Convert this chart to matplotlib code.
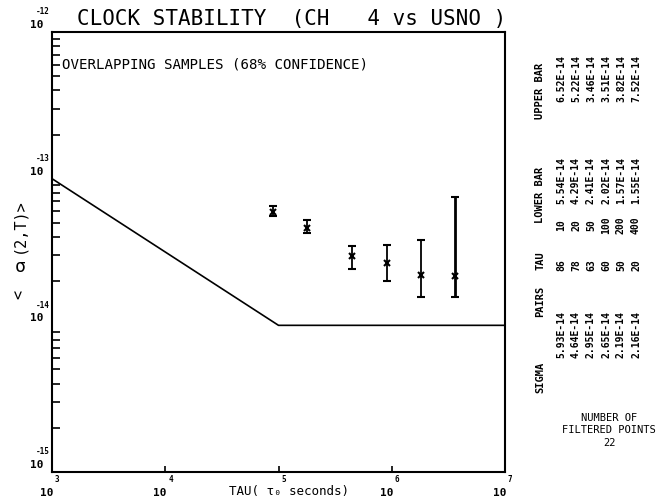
import numpy as np
import matplotlib.pyplot as plt
from matplotlib.ticker import LogLocator, NullFormatter

# table values (as printed on the chart)
sigma = [5.93e-14, 4.64e-14, 2.95e-14, 2.65e-14, 2.19e-14, 2.16e-14]
pairs = [86, 78, 63, 60, 50, 20]
tau = [10, 20, 50, 100, 200, 400]
lower_bar = [5.54e-14, 4.29e-14, 2.41e-14, 2.02e-14, 1.57e-14, 1.55e-14]
upper_bar = [6.52e-14, 5.22e-14, 3.46e-14, 3.51e-14, 3.82e-14, 7.52e-14]
# where the points sit on the seconds axis
tau_sec = [9.0e4, 1.8e5, 4.5e5, 9.0e5, 1.8e6, 3.6e6]
# model line
model_x = [1e3, 1e5, 1e7]
model_y = [1e-13, 1e-14, 1e-14]
n_filtered = 22

mono = 'DejaVu Sans Mono'
plt.rcParams['font.family'] = mono

fig = plt.figure(figsize=(6.62, 5.0), dpi=100)
ax = fig.add_axes([52/662, 1-472/500, (505-52)/662, (472-32)/500])
ax.set_xscale('log')
ax.set_yscale('log')
ax.set_xlim(1e3, 1e7)
ax.set_ylim(1e-15, 1e-12)

ax.plot(model_x, model_y, color='black', lw=1.2)

for i in range(len(sigma)):
    lo = sigma[i] - lower_bar[i]
    hi = upper_bar[i] - sigma[i]
    lw = 2.0 if i == len(sigma) - 1 else 1.3
    ax.errorbar([tau_sec[i]], [sigma[i]], yerr=[[lo], [hi]], fmt='x', color='black',
                ms=4.5, mew=1.5, elinewidth=lw, capsize=3, capthick=1.5)

for s in ax.spines.values():
    s.set_linewidth(1.5)

ax.yaxis.set_major_locator(LogLocator(base=10, numticks=10))
ax.yaxis.set_minor_locator(LogLocator(base=10, subs=np.arange(2, 10), numticks=10))
ax.yaxis.set_minor_formatter(NullFormatter())
ax.tick_params(axis='y', which='minor', direction='in', length=6, width=1.2, right=False)
ax.tick_params(axis='y', which='major', direction='in', length=0, right=False)
ax.xaxis.set_major_locator(LogLocator(base=10, numticks=10))
ax.xaxis.set_minor_formatter(NullFormatter())
ax.tick_params(axis='x', which='major', direction='in', length=4, width=1.2, top=False)
ax.tick_params(axis='x', which='minor', length=0)
ax.set_xticklabels([])
ax.set_yticklabels([])

# tick labels in the plotter style: exponent above the 10
for e in [3, 4, 5, 6, 7]:
    if e != 5:  # the axis title sits on that slot
        ax.text(10.0**e * 0.903, -0.048, '10', transform=ax.get_xaxis_transform(), ha='center',
                va='center', fontsize=8, fontweight='bold')
    ax.text(10.0**e * 1.11, -0.018, str(e), transform=ax.get_xaxis_transform(), ha='center',
            va='center', fontsize=5.5, fontweight='bold')
for e in [-12, -13, -14, -15]:
    ax.text(-0.033, 10.0**e * 1.116, '10', transform=ax.get_yaxis_transform(), ha='center',
            va='center', fontsize=8, fontweight='bold')
    ax.text(-0.004, 10.0**e * 1.37, str(e), transform=ax.get_yaxis_transform(), ha='right',
            va='center', fontsize=5.5, fontweight='bold')

fig.text(77/662, 1-19/500, 'CLOCK STABILITY  (CH   4 vs USNO )', ha='left', va='center',
         fontsize=15)
ax.text(0.022, 0.925, 'OVERLAPPING SAMPLES (68% CONFIDENCE)', transform=ax.transAxes,
        ha='left', va='center', fontsize=10.2)

# y label
fig.text(19/662, 1-294/500, '<', rotation=90, ha='center', va='center', fontsize=11)
fig.text(20/662, 1-267/500, 'σ', ha='center', va='center', fontsize=13)
fig.text(19/662, 1-226/500, '(2,T)>', rotation=90, ha='center', va='center', fontsize=11)

# x label
fig.text(229/662, 1-491/500, 'TAU( τ₀ seconds)', ha='left', va='center', fontsize=9)

# side table, rotated
col0 = 540
dx = 15
headers = [('SIGMA', 377), ('PAIRS', 301), ('TAU', 261), ('LOWER BAR', 195), ('UPPER BAR', 91)]
for txt, yy in headers:
    fig.text(col0/662, 1-yy/500, txt, rotation=90, ha='center', va='center',
             fontsize=7.5, fontweight='bold')
for i in range(len(sigma)):
    xx = (col0 + 6 + dx*(i+1))/662
    row = [('%.2fE-14' % (sigma[i]*1e14), 334), ('%d' % pairs[i], 265), ('%d' % tau[i], 225),
           ('%.2fE-14' % (lower_bar[i]*1e14), 180), ('%.2fE-14' % (upper_bar[i]*1e14), 79)]
    for txt, yy in row:
        fig.text(xx, 1-yy/500, txt, rotation=90, ha='center', va='center',
                 fontsize=7, fontweight='bold')

fig.text(609/662, 1-418/500, 'NUMBER OF', ha='center', va='center', fontsize=7.5)
fig.text(609/662, 1-430/500, 'FILTERED POINTS', ha='center', va='center', fontsize=7.5)
fig.text(609/662, 1-443/500, str(n_filtered), ha='center', va='center', fontsize=7.5)

fig.savefig('out.png', dpi=100)
